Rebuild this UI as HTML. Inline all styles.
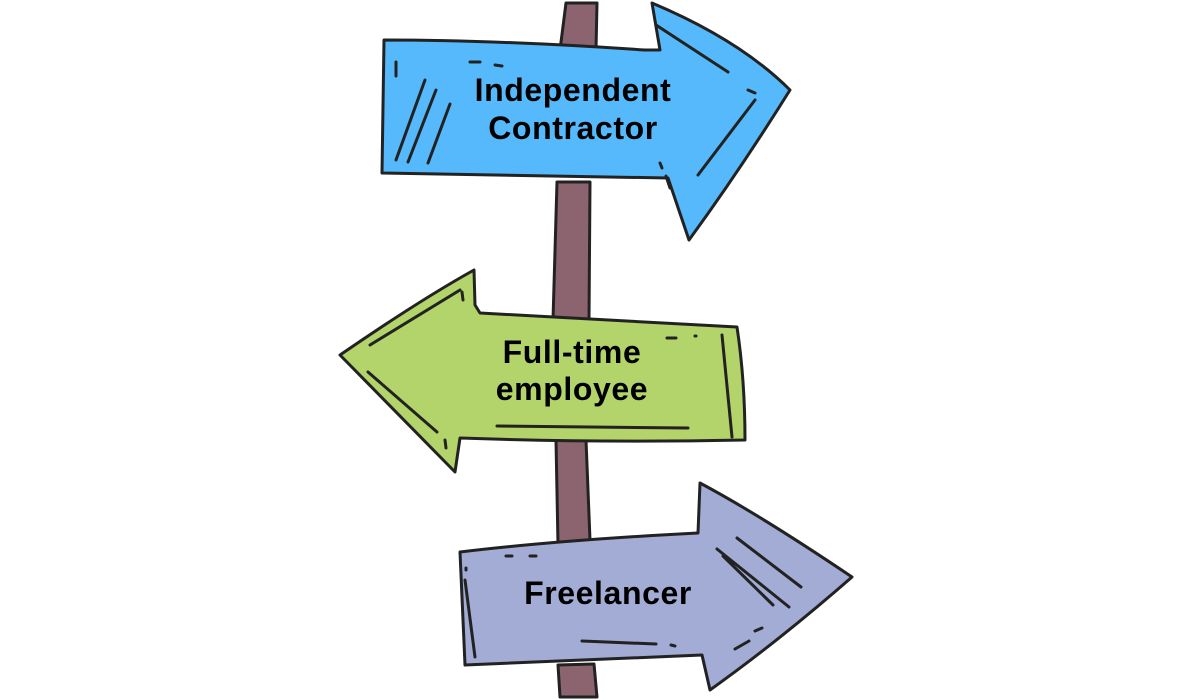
<!DOCTYPE html>
<html><head><meta charset="utf-8"><style>
html,body{margin:0;padding:0;background:#fff;}
svg{display:block}
text{font-family:"Liberation Sans",sans-serif;font-weight:bold;font-size:32px;letter-spacing:0.6px;fill:#000;text-anchor:middle}
</style></head><body>
<svg width="1200" height="700" viewBox="0 0 1200 700" xmlns="http://www.w3.org/2000/svg">
<g stroke="#222" stroke-width="3" stroke-linecap="round" stroke-linejoin="round">
<!-- post -->
<path d="M566,3 L597,3 L596,50 L560,50 Z" fill="#8b6470"/>
<path d="M557,182 L590,182 L589,320 L553,320 Z" fill="#8b6470"/>
<path d="M556,440 L586,440 L590,540 L558,545 Z" fill="#8b6470"/>
<path d="M558,665 L594,664 L597,697 L560,697 Z" fill="#8b6470"/>
<!-- blue -->
<path d="M384,40 Q500,40 645,50 L660,50 L652,3 Q740,40 790,90 Q740,170 689,240 L668,178 L382,173 Z" fill="#55b9fb"/>
<path d="M396,160 L425,80 M408,162 L436,90 M428,163 L450,104 M396,62 L396,76 M470,62 L480,62 M495,65 L502,66 M656,25 L728,72 M748,90 L755,93 M755,100 L698,175 M660,163 L662,168 M666,176 L670,188" fill="none"/>
<!-- green -->
<path d="M340,355 Q420,300 474,270 L475,305 L480,313 Q600,320 737,327 Q745,380 745,440 Q600,443 460,438 L455,472 Z" fill="#b2d46b"/>
<path d="M368,372 L437,432 M370,345 L460,290 M462,292 L463,300 M497,426 L688,428 M722,335 L732,437 M667,338 L676,338 M695,336 L696,336 M445,440 L446,448" fill="none"/>
<!-- purple -->
<path d="M460,552 Q560,540 698,533 L700,483 Q760,515 852,577 Q780,640 710,690 L702,655 L465,665 Z" fill="#a2acd4"/>
<path d="M465,580 L475,657 M466,568 L466,570 M506,556 L512,556 M530,556 L536,556 M717,549 L789,607 M737,538 L801,587 M723,556 L773,605 M582,641 L656,644 M671,645 L675,646 M735,649 L749,641 M755,631 L762,628" fill="none"/>
</g>
<text x="573" y="101">Independent</text>
<text x="573" y="139">Contractor</text>
<text x="572" y="363">Full-time</text>
<text x="572" y="400">employee</text>
<text x="608" y="604">Freelancer</text>
</svg>
</body></html>
